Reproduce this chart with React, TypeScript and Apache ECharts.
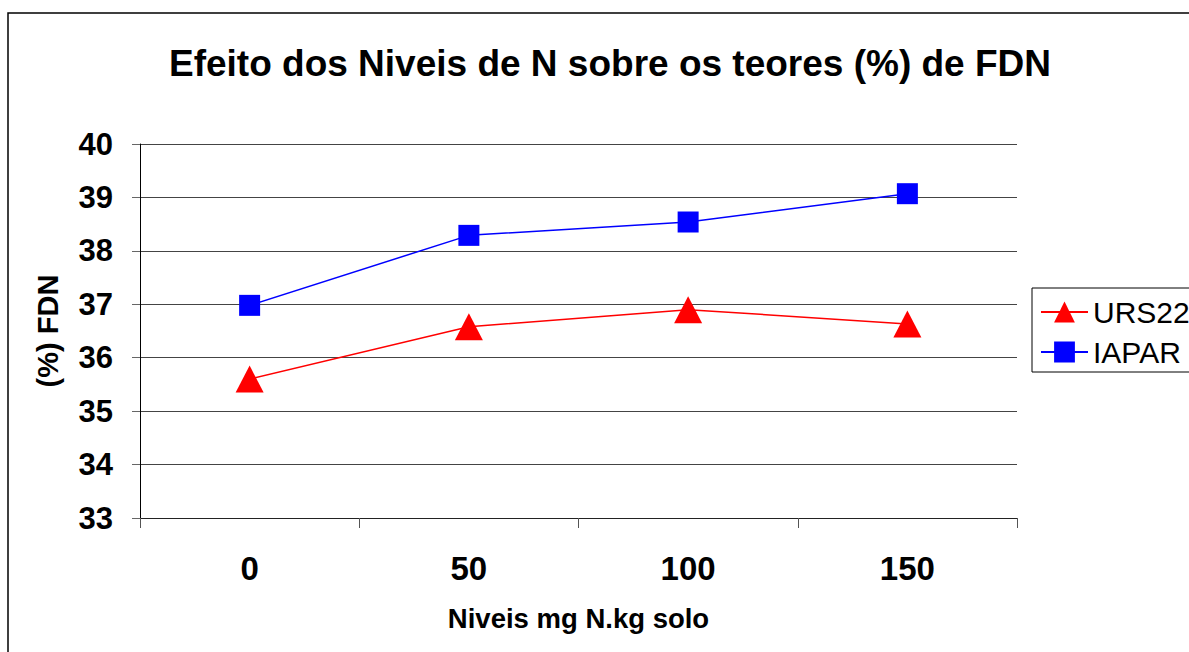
import React, { useEffect, useRef } from "react";
import * as echarts from "echarts";

const categories = ["0", "50", "100", "150"];
const urs22 = [35.6, 36.58, 36.9, 36.63];
const iapar = [36.98, 38.29, 38.54, 39.07];
const yTicks = { min: 33, max: 40, interval: 1 };
const titleText = "Efeito dos Niveis de N sobre os teores (%) de FDN";
const xName = "Niveis mg N.kg solo";
const yName = "(%) FDN";

export default function App() {
  const ref = useRef<HTMLDivElement>(null);
  useEffect(() => {
    document.body.style.margin = "0";
    const chart = echarts.init(ref.current!, null, { renderer: "svg" });
    const font = "Arial, 'Liberation Sans', sans-serif";
    chart.setOption({
      animation: false,
      backgroundColor: "#fff",
      textStyle: { fontFamily: font },
      title: {
        text: titleText,
        left: 605,
        textAlign: "center",
        top: 40,
        textStyle: { fontSize: 37, fontWeight: "bold", color: "#000", fontFamily: font },
      },
      grid: { left: 140, right: 172, top: 144, bottom: 134, containLabel: false },
      legend: {
        orient: "vertical",
        left: 1032,
        top: 288,
        itemWidth: 47,
        itemHeight: 26,
        itemGap: 10,
        padding: [9, 20, 5, 8],
        borderColor: "#000",
        borderWidth: 1,
        textStyle: { fontSize: 30, color: "#000", fontFamily: font },
        data: ["URS22", "IAPAR"],
      },
      xAxis: {
        type: "category",
        data: categories,
        boundaryGap: true,
        name: xName,
        nameLocation: "middle",
        nameGap: 86,
        nameTextStyle: { fontSize: 27.5, fontWeight: "bold", color: "#000", fontFamily: font },
        axisLine: { show: true, lineStyle: { color: "#222", width: 1 } },
        axisTick: { show: true, length: 10, lineStyle: { color: "#555" } },
        axisLabel: { margin: 34, fontSize: 33, fontWeight: "bold", color: "#000", fontFamily: font },
        splitLine: { show: false },
      },
      yAxis: {
        type: "value",
        min: yTicks.min,
        max: yTicks.max,
        interval: yTicks.interval,
        name: yName,
        nameLocation: "middle",
        nameGap: 78,
        nameTextStyle: { fontSize: 29, fontWeight: "bold", color: "#000", fontFamily: font },
        axisLine: { show: true, lineStyle: { color: "#000", width: 1 } },
        axisTick: { show: true, length: 8, lineStyle: { color: "#666" } },
        axisLabel: { margin: 27, fontSize: 31, fontWeight: "bold", color: "#000", fontFamily: font },
        splitLine: { show: true, lineStyle: { color: "#444", width: 1 } },
      },
      graphic: [
        {
          type: "rect",
          shape: { x: 8, y: 13, width: 1300, height: 800 },
          style: { fill: "none", stroke: "#000", lineWidth: 1.5 },
          silent: true,
          z: 100,
        },
      ],
      series: [
        {
          name: "URS22",
          type: "line",
          data: urs22,
          symbol: "triangle",
          symbolSize: [28, 27],
          lineStyle: { color: "#ff0000", width: 1.5 },
          itemStyle: { color: "#ff0000" },
        },
        {
          name: "IAPAR",
          type: "line",
          data: iapar,
          symbol: "rect",
          symbolSize: 21,
          lineStyle: { color: "#0000ff", width: 1.5 },
          itemStyle: { color: "#0000ff" },
        },
      ],
    });
    return () => chart.dispose();
  }, []);
  return <div ref={ref} style={{ position: "absolute", left: 0, top: 0, width: 1189, height: 652 }} />;
}
